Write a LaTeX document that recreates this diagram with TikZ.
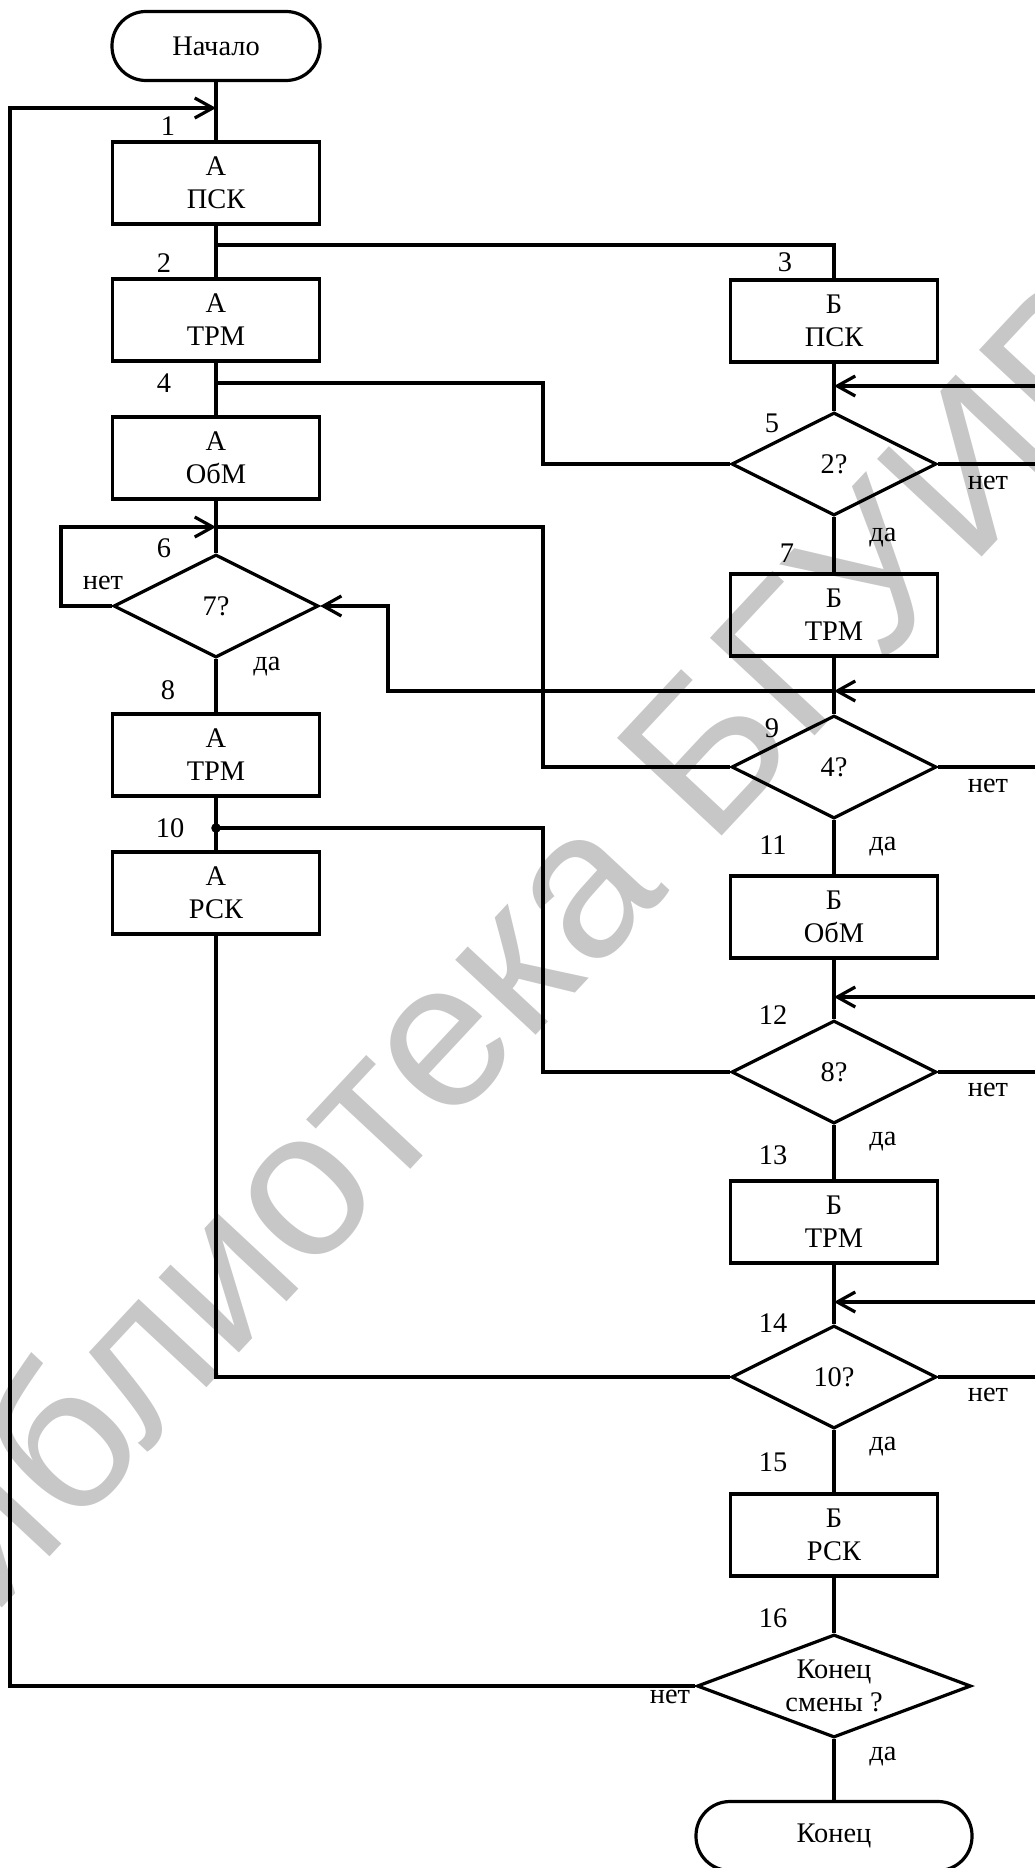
\documentclass[tikz,border=0pt]{standalone}
\usepackage{fontspec}
\setmainfont{Liberation Serif}
\newfontfamily\wmfont{Liberation Sans}
\usetikzlibrary{shapes.geometric,arrows.meta}

\tikzset{
  blk/.style={draw, line width=1.6pt, minimum width=103.5pt, minimum height=41pt,
    inner sep=0pt, align=center},
  cond/.style={draw, diamond, aspect=2, line width=1.6pt, minimum width=102.5pt,
    minimum height=51.5pt, inner sep=0pt, align=center},
  term/.style={draw, line width=1.6pt, rounded corners=17pt, minimum width=104pt,
    minimum height=34.5pt, inner sep=0pt},
  lbl/.style={inner sep=0pt},
  flow/.style={line width=1.6pt},
  inarr/.style={-{Straight Barb[length=9pt, width=10pt, line width=1.6pt]}},
  wmark/.style={text=black!22, inner sep=0pt,
    font=\wmfont\fontsize{104pt}{104pt}\selectfont},
}

\begin{document}
\begin{tikzpicture}[x=0.5pt, y=-0.5pt, font=\fontsize{14.2pt}{16.5pt}\selectfont]
  \useasboundingbox (0,0) rectangle (1034,1868);
  % Watermark
  \node[wmark, rotate=47] (wmk) at (478,987) {Библиотека БГУИР};
  % Column A
  \node[term] (start) at (216,46) {Начало};
  \node[blk] (a1) at (216,183) {А\\ПСК};
  \node[blk] (a2) at (216,320) {А\\ТРМ};
  \node[blk] (a4) at (216,458) {А\\ОбМ};
  \node[cond] (d6) at (216,606) {7?};
  \node[blk] (a8) at (216,755) {А\\ТРМ};
  \node[blk] (a10) at (216,893) {А\\РСК};
  % Column B
  \node[blk] (b3) at (834,321) {Б\\ПСК};
  \node[cond] (d5) at (834,464) {2?};
  \node[blk] (b7) at (834,615) {Б\\ТРМ};
  \node[cond] (d9) at (834,767) {4?};
  \node[blk] (b11) at (834,917) {Б\\ОбМ};
  \node[cond] (d12) at (834,1072) {8?};
  \node[blk] (b13) at (834,1222) {Б\\ТРМ};
  \node[cond] (d14) at (834,1377) {10?};
  \node[blk] (b15) at (834,1535) {Б\\РСК};
  \node[cond, aspect=2.66, minimum width=137pt] (d16) at (834,1686) {Конец\\смены ?};
  \node[term, minimum width=138pt] (stop) at (834,1836) {Конец};

  % Junctions
  \coordinate (j1) at (216,108);
  \coordinate (j2) at (216,245);
  \coordinate (j4) at (216,383);
  \coordinate (j6) at (216,527);
  \coordinate (j10) at (216,828);
  \coordinate (j5) at (834,386);
  \coordinate (j9) at (834,691);
  \coordinate (j12) at (834,997);
  \coordinate (j14) at (834,1302);
  % Right edge ends
  \coordinate (r5) at (1040,386);
  \coordinate (r9) at (1040,691);
  \coordinate (r12) at (1040,997);
  \coordinate (r14) at (1040,1302);
  \coordinate (o5) at (1040,464);
  \coordinate (o9) at (1040,767);
  \coordinate (o12) at (1040,1072);
  \coordinate (o14) at (1040,1377);

  % Main flow A
  \draw[flow] (start.south) -- (a1.north);
  \draw[flow] (a1.south) -- (a2.north);
  \draw[flow] (a2.south) -- (a4.north);
  \draw[flow] (a4.south) -- (d6.north);
  \draw[flow] (d6.south) -- (a8.north);
  \draw[flow] (a8.south) -- (a10.north);
  \fill (j10) circle (2.4pt);
  % Main flow B
  \draw[flow] (j2) -| (b3.north);
  \draw[flow] (b3.south) -- (d5.north);
  \draw[flow] (d5.south) -- (b7.north);
  \draw[flow] (b7.south) -- (d9.north);
  \draw[flow] (d9.south) -- (b11.north);
  \draw[flow] (b11.south) -- (d12.north);
  \draw[flow] (d12.south) -- (b13.north);
  \draw[flow] (b13.south) -- (d14.north);
  \draw[flow] (d14.south) -- (b15.north);
  \draw[flow] (b15.south) -- (d16.north);
  \draw[flow] (d16.south) -- (stop.north);
  % Cross links
  \draw[flow] (j4) -- ++(327,0) |- (d5.west);
  \draw[flow] (d9.west) -| (543,527) -- (j6);
  \draw[flow, inarr] (d6.west) -| (61,527) -- (j6);
  \draw[flow, inarr] (j9) -| (388,606) -- (d6.east);
  \draw[flow] (j10) -- ++(327,0) |- (d12.west);
  \draw[flow] (a10.south) |- (d14.west);
  \draw[flow, inarr] (d16.west) -| (10,108) -- (j1);
  % From the right
  \draw[flow, inarr] (r5) -- (j5);
  \draw[flow, inarr] (r9) -- (j9);
  \draw[flow, inarr] (r12) -- (j12);
  \draw[flow, inarr] (r14) -- (j14);
  \draw[flow] (d5.east) -- (o5);
  \draw[flow] (d9.east) -- (o9);
  \draw[flow] (d12.east) -- (o12);
  \draw[flow] (d14.east) -- (o14);

  % Numbers
  \node[lbl] (n1) at (168,126) {1};
  \node[lbl] (n2) at (164,263) {2};
  \node[lbl] (n3) at (785,262) {3};
  \node[lbl] (n4) at (164,383) {4};
  \node[lbl] (n5) at (772,423) {5};
  \node[lbl] (n6) at (164,548) {6};
  \node[lbl] (n7) at (787,553) {7};
  \node[lbl] (n8) at (168,690) {8};
  \node[lbl] (n9) at (772,728) {9};
  \node[lbl] (n10) at (170,828) {10};
  \node[lbl] (n11) at (773,845) {11};
  \node[lbl] (n12) at (773,1015) {12};
  \node[lbl] (n13) at (773,1155) {13};
  \node[lbl] (n14) at (773,1323) {14};
  \node[lbl] (n15) at (773,1462) {15};
  \node[lbl] (n16) at (773,1618) {16};
  % Branch labels
  \node[lbl] (no5) at (988,483) {нет};
  \node[lbl] (no6) at (103,583) {нет};
  \node[lbl] (no9) at (988,786) {нет};
  \node[lbl] (no12) at (988,1090) {нет};
  \node[lbl] (no14) at (988,1395) {нет};
  \node[lbl] (no16) at (670,1697) {нет};
  \node[lbl] (yes5) at (883,538) {да};
  \node[lbl] (yes6) at (267,667) {да};
  \node[lbl] (yes9) at (883,847) {да};
  \node[lbl] (yes12) at (883,1142) {да};
  \node[lbl] (yes14) at (883,1447) {да};
  \node[lbl] (yes16) at (883,1757) {да};
\end{tikzpicture}
\end{document}
